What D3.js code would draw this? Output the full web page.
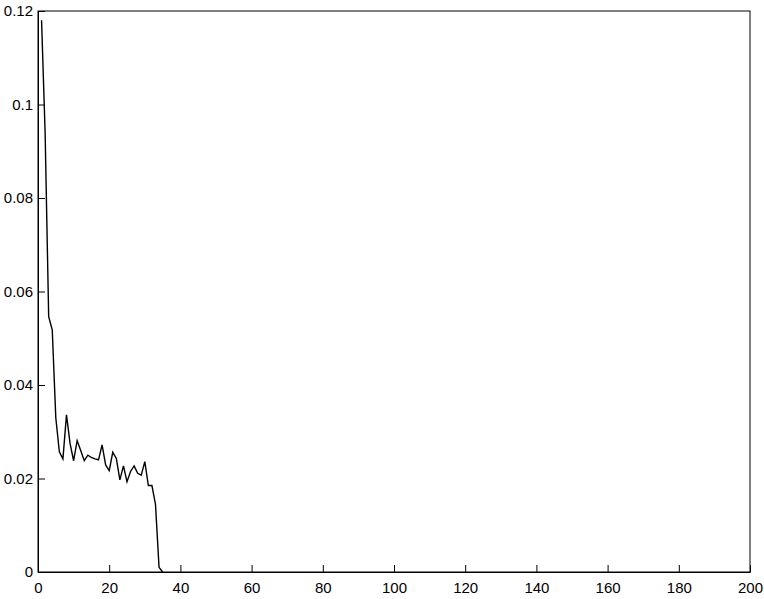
<!DOCTYPE html>
<html>
<head>
<meta charset="utf-8">
<script src="https://cdn.jsdelivr.net/npm/d3@7"></script>
<style>
  body { margin: 0; background: #fff; }
  text { font-family: "Liberation Sans", Arial, sans-serif; }
</style>
</head>
<body>
<div id="chart"></div>
<script>
// values, one per integer x
var xs = d3.range(1, 36);
var ys = [0.118, 0.094, 0.0546, 0.0518, 0.033, 0.0257, 0.0242, 0.0336, 0.0275, 0.0238,
          0.0281, 0.026, 0.0238, 0.025, 0.0245, 0.0242, 0.024, 0.0272, 0.0229, 0.0217,
          0.0256, 0.0243, 0.0197, 0.0227, 0.0193, 0.0215, 0.0227, 0.0211, 0.0207, 0.0236,
          0.0185, 0.0185, 0.0145, 0.001, 0];
var xTicks = [0, 20, 40, 60, 80, 100, 120, 140, 160, 180, 200];
var yTicks = [0, 0.02, 0.04, 0.06, 0.08, 0.1, 0.12];

var width = 764, height = 599;
var plotLeft = 38, plotRight = 750, plotTop = 11, plotBottom = 572;

var svg = d3.select('#chart')
    .append('svg')
    .attr('width', width)
    .attr('height', height);

var x = d3.scaleLinear().domain([0, 200]).range([plotLeft, plotRight]);
var y = d3.scaleLinear().domain([0, 0.12]).range([plotBottom, plotTop]);

// box
svg.append('rect')
    .attr('x', plotLeft)
    .attr('y', plotTop)
    .attr('width', plotRight - plotLeft)
    .attr('height', plotBottom - plotTop)
    .attr('fill', 'none')
    .attr('stroke', 'black')
    .attr('stroke-width', 1);

var xAxis = d3.axisBottom(x).tickValues(xTicks).tickSizeInner(-7).tickSizeOuter(0).tickPadding(10)
    .tickFormat(d3.format('d'));
var yAxis = d3.axisLeft(y).tickValues(yTicks).tickSizeInner(-7).tickSizeOuter(0).tickPadding(5)
    .tickFormat(function(d) { return d === 0 ? '0' : String(+d.toFixed(2)); });

var gx = svg.append('g')
    .attr('transform', 'translate(0,' + plotBottom + ')')
    .call(xAxis);
var gy = svg.append('g')
    .attr('transform', 'translate(' + plotLeft + ',0)')
    .call(yAxis);

[gx, gy].forEach(function(g) {
    g.select('.domain').attr('stroke', 'black');
    g.selectAll('.tick line').attr('stroke', 'black');
    g.selectAll('.tick text')
        .attr('fill', 'black')
        .attr('font-size', 15)
        .attr('font-family', '"Liberation Sans", Arial, sans-serif');
});

var line = d3.line()
    .x(function(d, i) { return x(xs[i]); })
    .y(function(d) { return y(d); });

svg.append('path')
    .datum(ys)
    .attr('d', line)
    .attr('fill', 'none')
    .attr('stroke', 'black')
    .attr('stroke-width', 1.4);
</script>
</body>
</html>
